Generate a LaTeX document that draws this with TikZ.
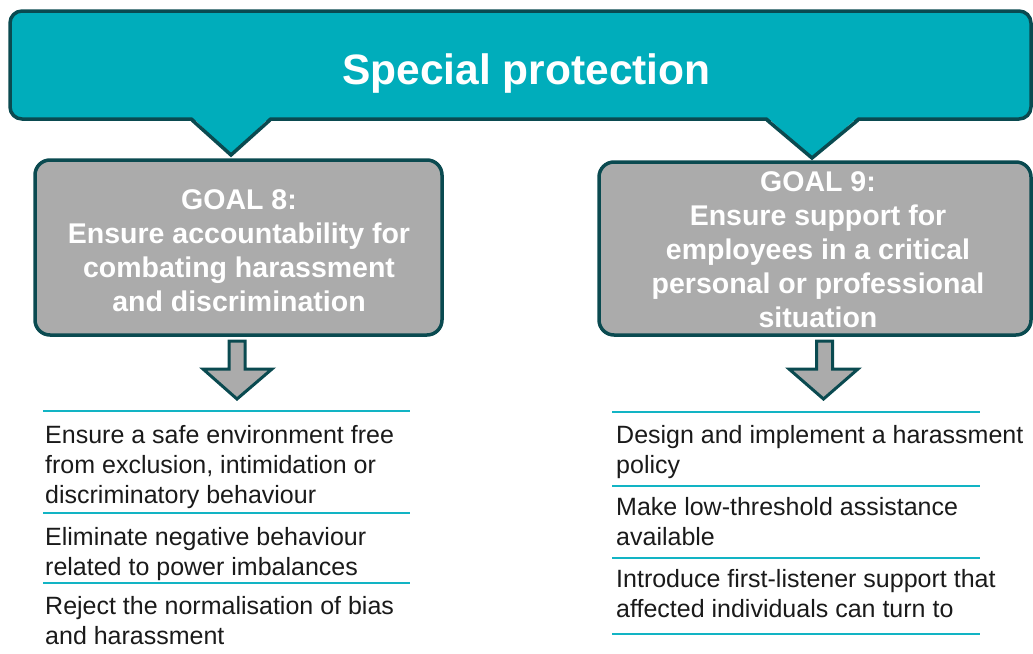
\documentclass[tikz,border=0pt]{standalone}
\usepackage{fontspec}
\setmainfont{Liberation Sans}
\definecolor{banfill}{RGB}{0,173,187}
\definecolor{darkline}{RGB}{10,74,80}
\definecolor{goalgray}{RGB}{171,171,171}
\definecolor{rulecol}{RGB}{18,180,196}
\definecolor{ink}{RGB}{26,26,26}
\begin{document}
\begin{tikzpicture}[x=1pt,y=-1pt,
  banner/.style={draw=darkline,fill=banfill,line width=3.5pt,rounded corners=12pt,inner sep=0pt},
  goalbox/.style={draw=darkline,fill=goalgray,line width=3.5pt,rounded corners=15pt,inner sep=0pt},
  goaltext/.style={text=white,align=center,inner sep=0pt,font=\fontsize{28.5}{34}\selectfont\bfseries},
  pointer/.style={fill=banfill},
  pointeredge/.style={draw=darkline,line width=3.5pt,line join=miter},
  blockarrow/.style={draw=darkline,fill=goalgray,line width=3pt,line join=miter},
  itemtext/.style={text=ink,align=left,anchor=north west,inner sep=0pt,font=\fontsize{25}{30}\selectfont},
  rule/.style={draw=rulecol,line width=2.5pt}]
\useasboundingbox (0,0) rectangle (1033,653);

% banner
\node[banner,minimum width=1021pt,minimum height=108pt] (banner) at (520.5,65) {};
\node[text=white,font=\fontsize{42.5}{50}\selectfont\bfseries,inner sep=0pt,anchor=base] (title) at (526.5,84) {Special protection};

% pointers
\fill[pointer] (192,117) -- (231,155) -- (270,117) -- cycle;
\draw[pointeredge] (192,120) -- (231,155) -- (270,120);
\fill[pointer] (767,117) -- (812,158) -- (858,117) -- cycle;
\draw[pointeredge] (767,120) -- (812,158) -- (858,120);

% goal boxes
\node[goalbox,minimum width=407pt,minimum height=175pt] (g8) at (238.5,247.5) {};
\node[goaltext] (g8t) at (239,251) {\rule{0pt}{20pt}GOAL 8:\\Ensure accountability for\\combating harassment\\and discrimination};
\node[goalbox,minimum width=432pt,minimum height=173pt] (g9) at (815,248.5) {};
\node[goaltext] (g9t) at (818,250) {\rule{0pt}{20pt}GOAL 9:\\Ensure support for\\employees in a critical\\personal or professional\\situation};

% block arrows
\draw[blockarrow] (229,341) -- (245,341) -- (245,369) -- (272,369) -- (237,399) -- (203,369) -- (229,369) -- cycle;
\draw[blockarrow] (816.5,341) -- (832.5,341) -- (832.5,369) -- (858,369) -- (823.5,399) -- (789,369) -- (816.5,369) -- cycle;

% left list
\coordinate (la1) at (43,411); \coordinate (lb1) at (410,411);
\coordinate (la2) at (43,513); \coordinate (lb2) at (410,513);
\coordinate (la3) at (43,583); \coordinate (lb3) at (410,583);
\draw[rule] (la1) -- (lb1);
\draw[rule] (la2) -- (lb2);
\draw[rule] (la3) -- (lb3);
\node[itemtext] (i1) at (45,423) {\rule{0pt}{20pt}Ensure a safe environment free\\from exclusion, intimidation or\\discriminatory behaviour};
\node[itemtext] (i2) at (45,525) {\rule{0pt}{20pt}Eliminate negative behaviour\\related to power imbalances};
\node[itemtext] (i3) at (45,594) {\rule{0pt}{20pt}Reject the normalisation of bias\\and harassment};

% right list
\coordinate (ra1) at (612,412); \coordinate (rb1) at (980,412);
\coordinate (ra2) at (612,486); \coordinate (rb2) at (980,486);
\coordinate (ra3) at (612,558); \coordinate (rb3) at (980,558);
\coordinate (ra4) at (612,634); \coordinate (rb4) at (980,634);
\draw[rule] (ra1) -- (rb1);
\draw[rule] (ra2) -- (rb2);
\draw[rule] (ra3) -- (rb3);
\draw[rule] (ra4) -- (rb4);
\node[itemtext] (j1) at (616,423) {\rule{0pt}{20pt}Design and implement a harassment\\policy};
\node[itemtext] (j2) at (616,495) {\rule{0pt}{20pt}Make low-threshold assistance\\available};
\node[itemtext] (j3) at (616,567) {\rule{0pt}{20pt}Introduce first-listener support that\\affected individuals can turn to};
\end{tikzpicture}
\end{document}
